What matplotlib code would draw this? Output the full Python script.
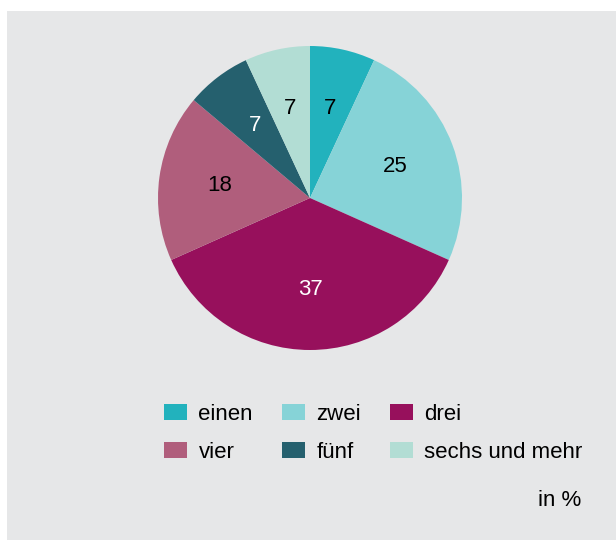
import matplotlib.pyplot as plt
from matplotlib.patches import Rectangle

plt.rcParams['font.family'] = ['Liberation Sans', 'DejaVu Sans']

categories = ['einen', 'zwei', 'drei', 'vier', 'fünf', 'sechs und mehr']
values = [7, 25, 37, 18, 7, 7]
colors = ['#22b2bd', '#86d3d7', '#97105c', '#b05e7c', '#25606e', '#b2ddd4']
label_colors = ['black', 'black', 'white', 'black', 'white', 'black']

W, H = 616, 540
fig = plt.figure(figsize=(W / 100, H / 100), dpi=100, facecolor='white')

# grey panel
fig.add_artist(Rectangle((7 / W, 0), 1 - 7 / W, 1 - 11 / H,
                         transform=fig.transFigure, facecolor='#e6e7e8',
                         edgecolor='none', zorder=0))

cx, cy, r = 310, 198, 152
ax = fig.add_axes([(cx - r) / W, (H - cy - r) / H, 2 * r / W, 2 * r / H])
ax.set_facecolor('none')

wedges, texts = ax.pie(values, colors=colors, startangle=90, counterclock=False,
                       labels=[str(v) for v in values], labeldistance=0.6,
                       wedgeprops=dict(linewidth=0),
                       textprops=dict(fontsize=16, ha='center', va='center'))
for t, c in zip(texts, label_colors):
    t.set_color(c)
ax.set_xlim(-1, 1)
ax.set_ylim(-1, 1)

# legend fills column-wise, reorder so it reads row-wise
order = [0, 3, 1, 4, 2, 5]
leg = fig.legend([wedges[i] for i in order], [categories[i] for i in order],
                 ncol=3, frameon=False, fontsize=16,
                 loc='upper left', bbox_to_anchor=(164 / W, 1 - 404 / H),
                 handlelength=1.05, handleheight=0.72, handletextpad=0.5,
                 columnspacing=1.3, labelspacing=0.75, borderpad=0,
                 borderaxespad=0)

fig.text(581 / W, 1 - 501 / H, 'in %', ha='right', va='center', fontsize=16)

fig.savefig('out.png', dpi=100)
